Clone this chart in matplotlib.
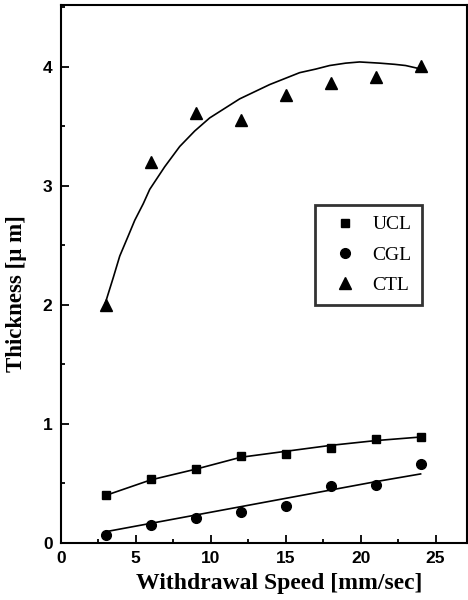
import numpy as np
import matplotlib
matplotlib.use("Agg")
import matplotlib.pyplot as plt
from matplotlib.ticker import MultipleLocator

# withdrawal speed [mm/sec]
speed = [3, 6, 9, 12, 15, 18, 21, 24]

# thickness [um]
ucl = [0.40, 0.54, 0.62, 0.73, 0.75, 0.80, 0.87, 0.89]
cgl = [0.07, 0.15, 0.21, 0.26, 0.31, 0.48, 0.49, 0.66]
ctl = [2.00, 3.20, 3.61, 3.55, 3.76, 3.86, 3.91, 4.01]

# fitted curves as drawn in the figure
fit_x_ctl = [2.93, 3.5, 3.93, 4.5, 4.93, 5.5, 5.93, 6.93, 7.93, 8.93, 9.93, 10.93,
             11.93, 12.93, 13.93, 14.93, 15.93, 17.0, 17.93, 19.0, 19.93, 21.27,
             22.27, 23.0, 23.7, 24.0]
fit_ctl = [2.00, 2.23, 2.41, 2.58, 2.71, 2.85, 2.97, 3.16, 3.33, 3.46, 3.57, 3.65,
           3.73, 3.79, 3.85, 3.90, 3.95, 3.98, 4.01, 4.03, 4.04, 4.03,
           4.02, 4.01, 3.99, 3.98]
fit_x_low = [3, 6, 9, 12, 15, 18, 21, 24]
fit_ucl = [0.40, 0.53, 0.62, 0.72, 0.77, 0.82, 0.86, 0.89]
fit_cgl = [0.095, 0.165, 0.235, 0.305, 0.375, 0.445, 0.515, 0.58]

fig = plt.figure(figsize=(4.68, 6.0), dpi=100)
ax = fig.add_axes([0.130, 0.095, 0.868, 0.897])

ax.plot(fit_x_ctl, fit_ctl, color="black", lw=1.2, zorder=2)
ax.plot(fit_x_low, fit_ucl, color="black", lw=1.2, zorder=2)
ax.plot(fit_x_low, fit_cgl, color="black", lw=1.2, zorder=2)

ax.plot(speed, ucl, "s", color="black", ms=6, ls="none", label="UCL", zorder=3)
ax.plot(speed, cgl, "o", color="black", ms=7, ls="none", label="CGL", zorder=3)
ax.plot(speed, ctl, "^", color="black", ms=8, ls="none", label="CTL", zorder=3)

ax.set_xlim(0, 27.1)
ax.set_ylim(0, 4.52)
ax.xaxis.set_major_locator(MultipleLocator(5))
ax.xaxis.set_minor_locator(MultipleLocator(2.5))
ax.yaxis.set_major_locator(MultipleLocator(1))
ax.yaxis.set_minor_locator(MultipleLocator(0.5))
ax.tick_params(which="both", direction="in", top=False, right=False, width=1.3)
ax.tick_params(which="major", length=6, pad=6)
ax.tick_params(which="minor", length=3)
for lab in ax.get_xticklabels() + ax.get_yticklabels():
    lab.set_fontfamily("Liberation Sans")
    lab.set_fontweight("bold")
    lab.set_fontsize(12.5)
for s in ax.spines.values():
    s.set_linewidth(1.5)

ax.set_xlabel("Withdrawal Speed [mm/sec]", fontfamily="Liberation Serif",
              fontweight="bold", fontsize=17)
ax.set_ylabel("Thickness [μ m]", fontfamily="Liberation Serif",
              fontweight="bold", fontsize=16.5)
ax.xaxis.set_label_coords(0.537, -0.056)
ax.yaxis.set_label_coords(-0.084, 0.463)

leg = ax.legend(loc="upper left", bbox_to_anchor=(0.626, 0.628), frameon=True,
                fancybox=False, edgecolor="black", handletextpad=0.4,
                labelspacing=0.65, borderaxespad=0, borderpad=0.55,
                prop={"family": "Liberation Serif", "size": 14})
leg.get_frame().set_linewidth(2)

fig.savefig("out.png", dpi=100)
